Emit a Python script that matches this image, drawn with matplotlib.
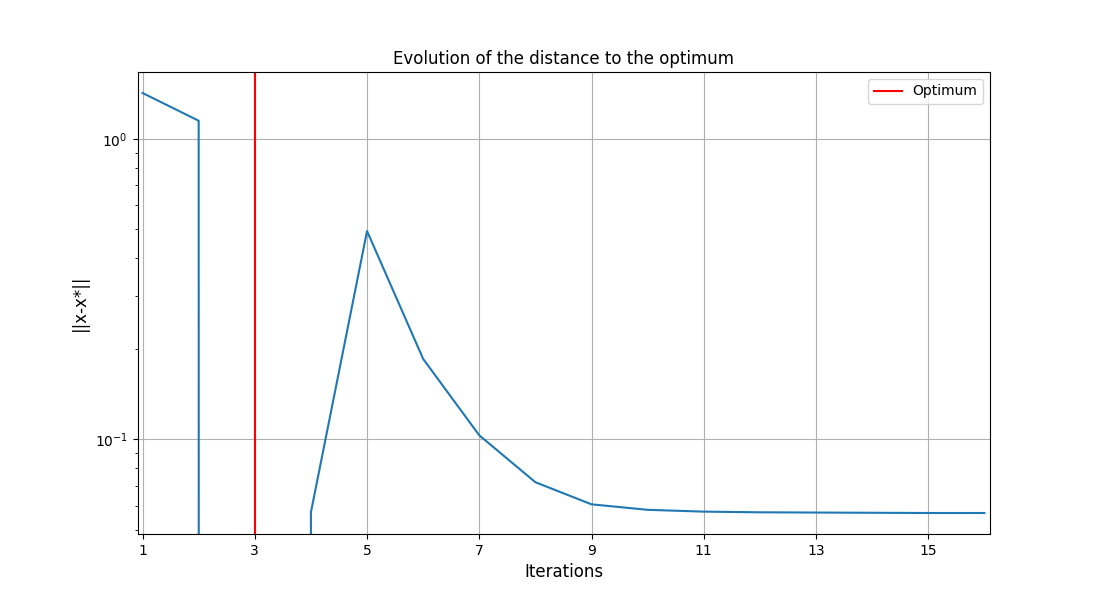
import numpy as np
import matplotlib
matplotlib.use("Agg")
import matplotlib.pyplot as plt

iterations = np.arange(1, 17)
# distance to optimum per iteration (0 at iteration 3 -> clipped on log scale)
distances = [1.42, 1.148, 0.0, 0.0571, 0.493, 0.185, 0.103, 0.0719,
             0.0607, 0.0582, 0.0574, 0.0571, 0.0570, 0.0569, 0.0568, 0.0568]
optimum_iter = 3

plt.figure(figsize=(11, 6), dpi=100)
plt.plot(iterations, distances)
plt.axvline(optimum_iter, color="red", label="Optimum")
plt.yscale("log")
plt.xlim(0.91, 16.1)
plt.xticks(range(1, 17, 2))
plt.grid(True)
plt.xlabel("Iterations", fontsize=12)
plt.ylabel("||x-x*||", fontsize=12)
plt.title("Evolution of the distance to the optimum")
plt.legend()
plt.savefig("out.png")
